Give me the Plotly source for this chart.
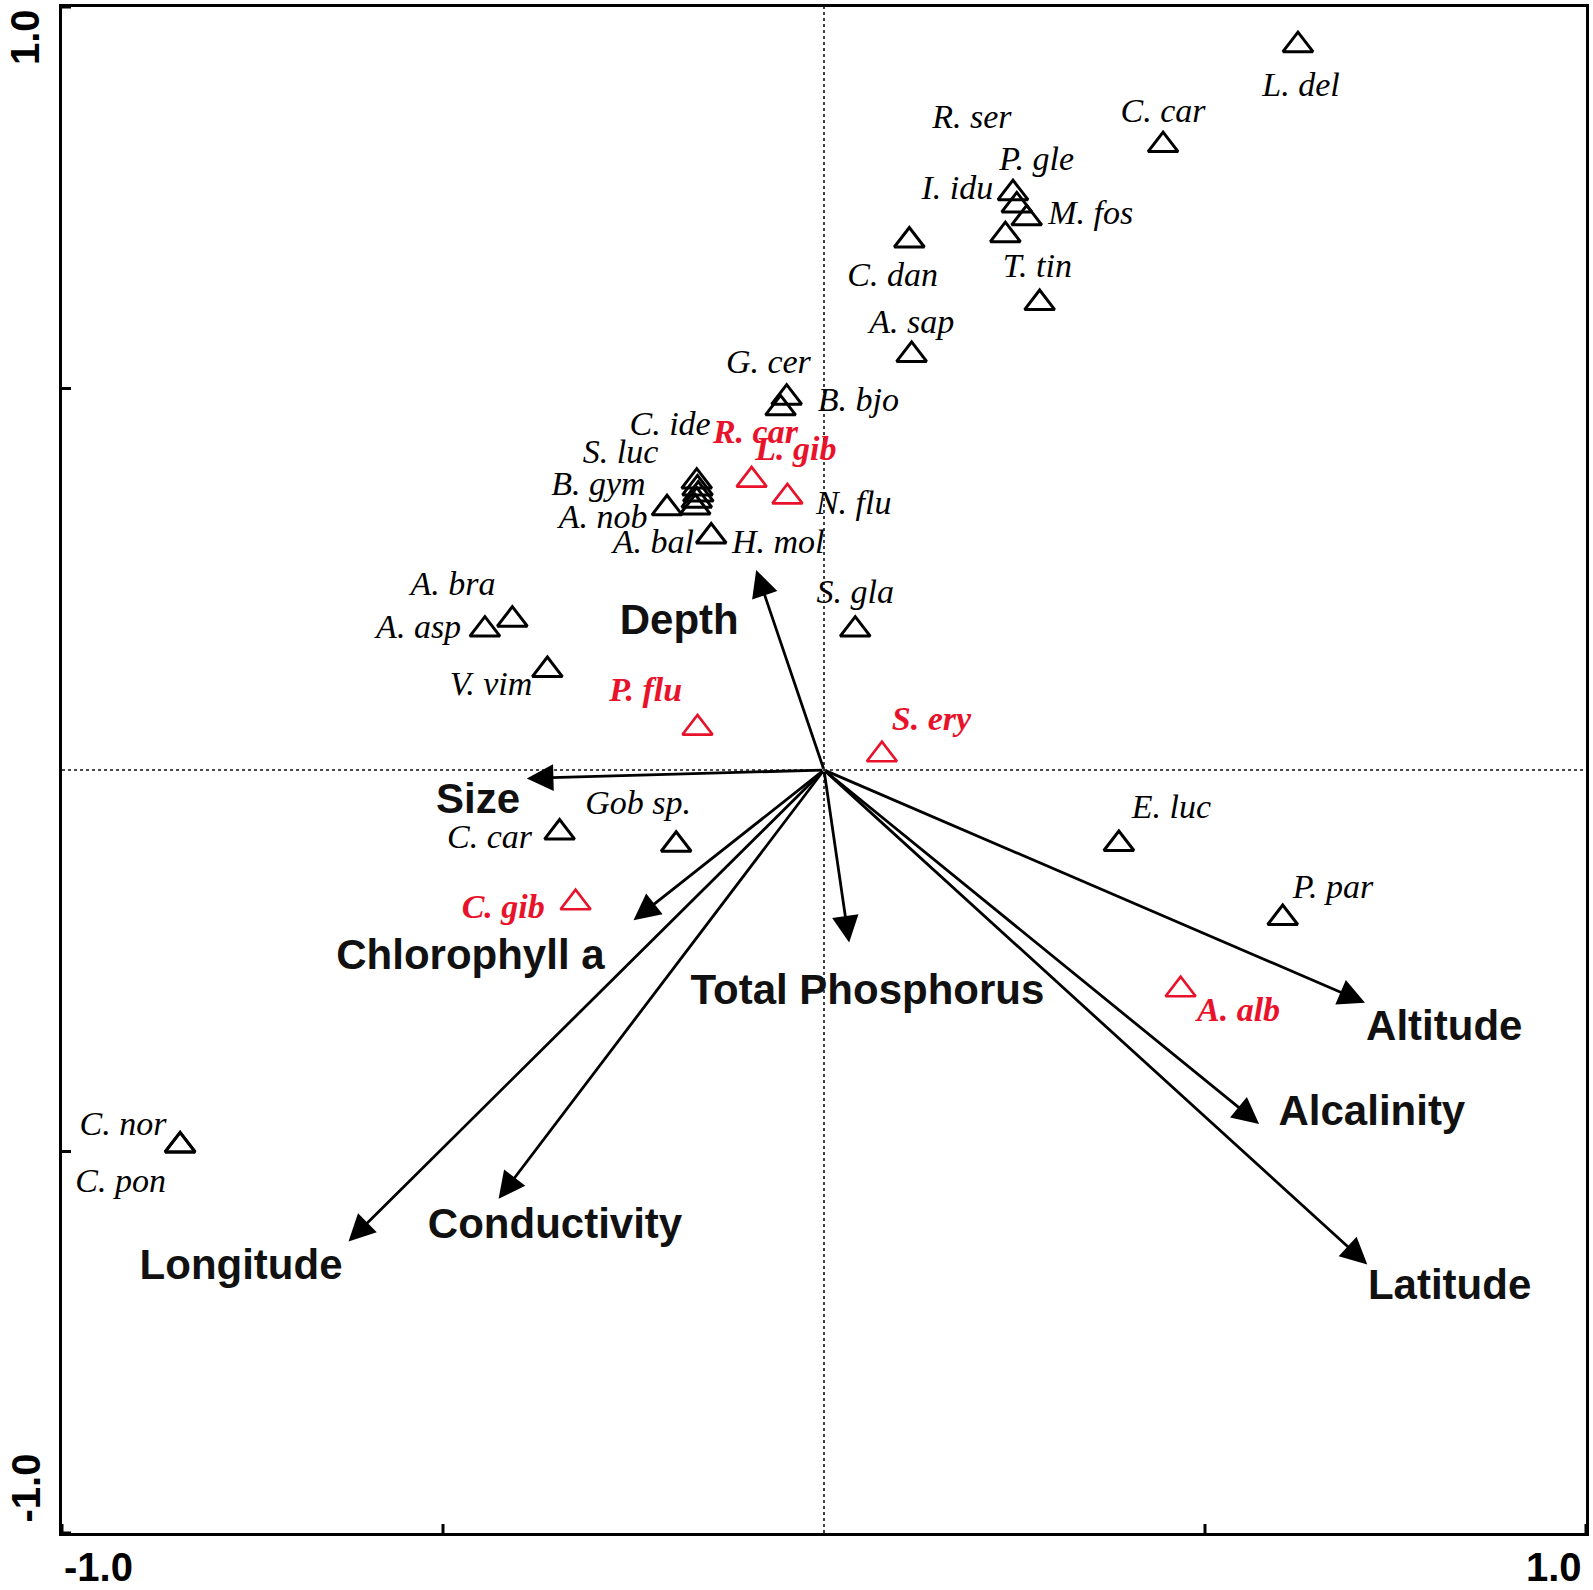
import plotly.graph_objects as go

# ---------------- data (ordination scores) ----------------
black_names = ["L. del", "C. car", "R. ser", "P. gle", "I. idu", "M. fos", "T. tin", "C. dan",
               "A. sap", "G. cer", "B. bjo", "C. ide", "S. luc", "B. gym", "N. flu", "A. bal",
               "A. nob", "H. mol", "S. gla", "A. asp", "A. bra", "V. vim", "C. car", "Gob sp.",
               "E. luc", "P. par", "C. nor", "C. pon"]
black_x = [0.622, 0.445, 0.248, 0.253, 0.266, 0.238, 0.283, 0.112,
           0.115, -0.049, -0.057, -0.167, -0.166, -0.165, -0.167, -0.169,
           -0.206, -0.148, 0.041, -0.445, -0.409, -0.363, -0.347, -0.194,
           0.387, 0.602, -0.845, -0.845]
black_y = [0.950, 0.819, 0.756, 0.740, 0.723, 0.701, 0.612, 0.694,
           0.544, 0.488, 0.474, 0.378, 0.369, 0.361, 0.353, 0.344,
           0.343, 0.306, 0.184, 0.184, 0.197, 0.131, -0.082, -0.098,
           -0.097, -0.194, -0.492, -0.492]
black_lab_x = [0.626, 0.445, 0.194, 0.279, 0.175, 0.350, 0.280, 0.090,
               0.115, -0.073, 0.045, -0.202, -0.267, -0.296, 0.039, -0.224,
               -0.290, -0.060, 0.041, -0.532, -0.487, -0.437, -0.439, -0.244,
               0.456, 0.668, -0.920, -0.923]
black_lab_y = [0.894, 0.860, 0.853, 0.798, 0.760, 0.727, 0.657, 0.646,
               0.584, 0.532, 0.482, 0.450, 0.414, 0.371, 0.347, 0.296,
               0.328, 0.296, 0.230, 0.184, 0.240, 0.109, -0.091, -0.046,
               -0.052, -0.156, -0.467, -0.542]

red_names = ["R. car", "L. gib", "P. flu", "S. ery", "C. gib", "A. alb"]
red_x = [-0.095, -0.048, -0.166, 0.076, -0.326, 0.468]
red_y = [0.380, 0.358, 0.055, 0.020, -0.174, -0.288]
red_lab_x = [-0.090, -0.037, -0.234, 0.141, -0.421, 0.544]
red_lab_y = [0.440, 0.417, 0.102, 0.063, -0.183, -0.318]

env_names = ["Depth", "Size", "Chlorophyll a", "Total Phosphorus", "Conductivity",
             "Longitude", "Altitude", "Alcalinity", "Latitude"]
env_x = [-0.089, -0.390, -0.250, 0.033, -0.427, -0.624, 0.710, 0.571, 0.713]
env_y = [0.262, -0.011, -0.197, -0.226, -0.562, -0.618, -0.305, -0.464, -0.648]
env_lab_x = [-0.190, -0.454, -0.464, 0.057, -0.353, -0.765, 0.814, 0.719, 0.821]
env_lab_y = [0.192, -0.042, -0.247, -0.293, -0.600, -0.653, -0.340, -0.452, -0.679]

tick_vals = [-1.0, -0.5, 0.5, 1.0]
tick_labels = {-1.0: "-1.0", 1.0: "1.0"}

# ---------------- styles ----------------
RED = "#E8132B"
SERIF = "Liberation Serif, Times New Roman, serif"
SANS = "Liberation Sans, Arial, sans-serif"

fig = go.Figure()

fig.add_trace(go.Scatter(
    x=black_x, y=black_y, mode="markers", hoverinfo="skip",
    marker=dict(symbol="triangle-up-open", size=26, color="black", line=dict(width=3)),
))
fig.add_trace(go.Scatter(
    x=red_x, y=red_y, mode="markers", hoverinfo="skip",
    marker=dict(symbol="triangle-up-open", size=26, color=RED, line=dict(width=2.7)),
))
fig.add_trace(go.Scatter(
    x=black_lab_x, y=black_lab_y, mode="text", text=black_names, hoverinfo="skip",
    textposition="middle center",
    textfont=dict(family=SERIF, size=34, color="black", style="italic"),
))
fig.add_trace(go.Scatter(
    x=red_lab_x, y=red_lab_y, mode="text", text=[f"<b>{n}</b>" for n in red_names],
    hoverinfo="skip", textposition="middle center",
    textfont=dict(family=SERIF, size=34, color=RED, style="italic"),
))
fig.add_trace(go.Scatter(
    x=env_lab_x, y=env_lab_y, mode="text", text=[f"<b>{n}</b>" for n in env_names],
    hoverinfo="skip", textposition="middle center",
    textfont=dict(family=SANS, size=42, color="#111111"),
))

annotations = []
for ex, ey in zip(env_x, env_y):
    annotations.append(dict(
        x=ex, y=ey, xref="x", yref="y", ax=0, ay=0, axref="x", ayref="y",
        text="", showarrow=True, arrowhead=2, arrowsize=1.9, arrowwidth=2.8,
        arrowcolor="black", standoff=0, startstandoff=0,
    ))

# tick labels (inset, as in the original)
tick_font = dict(family=SANS, size=40, color="black")
annotations += [
    dict(x=-1.0, y=0, xref="x", yref="paper", xanchor="left", yanchor="top", yshift=-10,
         text=f"<b>{tick_labels[-1.0]}</b>", showarrow=False, font=tick_font),
    dict(x=1.0, y=0, xref="x", yref="paper", xanchor="right", yanchor="top", yshift=-10, xshift=-2,
         text=f"<b>{tick_labels[1.0]}</b>", showarrow=False, font=tick_font),
    dict(x=0, y=1.0, xref="paper", yref="y", xanchor="center", yanchor="top", xshift=-37, yshift=0,
         text=f"<b>{tick_labels[1.0]}</b>", textangle=-90, showarrow=False, font=tick_font),
    dict(x=0, y=-1.0, xref="paper", yref="y", xanchor="center", yanchor="bottom", xshift=-37, yshift=8,
         text=f"<b>{tick_labels[-1.0]}</b>", textangle=-90, showarrow=False, font=tick_font),
]

shapes = [
    dict(type="line", xref="x", yref="y", x0=0, x1=0, y0=-1, y1=1,
         line=dict(color="#111111", width=1.6, dash="dot"), layer="below"),
    dict(type="line", xref="x", yref="y", x0=-1, x1=1, y0=0, y1=0,
         line=dict(color="#111111", width=1.6, dash="dot"), layer="below"),
]
for t in tick_vals:
    shapes.append(dict(type="line", xref="x", yref="y", xsizemode="pixel", xanchor=-1,
                       x0=-9, x1=9, y0=t, y1=t, line=dict(color="black", width=3)))
    shapes.append(dict(type="line", xref="x", yref="y", ysizemode="pixel", yanchor=-1,
                       y0=-9, y1=9, x0=t, x1=t, line=dict(color="black", width=3)))

axis_common = dict(range=[-1, 1], showgrid=False, zeroline=False, showticklabels=False,
                   ticks="", showline=True, mirror=True, linewidth=3, linecolor="black",
                   fixedrange=True)

fig.update_layout(
    width=1593, height=1590, autosize=False,
    margin=dict(l=62, r=5, t=4, b=57, pad=0),
    paper_bgcolor="white", plot_bgcolor="white",
    showlegend=False,
    xaxis=axis_common, yaxis=axis_common,
    annotations=annotations, shapes=shapes,
)

fig.write_html(
    "out.html",
    config={"displayModeBar": False},
    post_script="document.body.style.margin='0';document.body.style.padding='0';",
)
